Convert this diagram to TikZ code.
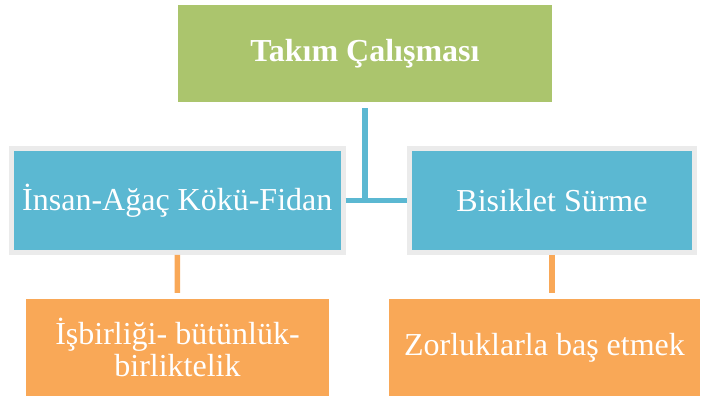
\documentclass[tikz,border=0pt]{standalone}
\usepackage{fontspec}
\setmainfont{Liberation Serif}
\definecolor{boxgreen}{HTML}{ABC56D}
\definecolor{boxblue}{HTML}{5BB8D2}
\definecolor{boxorange}{HTML}{F9A857}
\definecolor{rimgrey}{HTML}{EBEBEB}
\tikzset{
  base/.style={rectangle, inner sep=0pt, text=white, align=center, font=\fontsize{32}{32}\selectfont},
  greenbox/.style={base, fill=boxgreen, font=\fontsize{32}{32}\selectfont\bfseries},
  bluebox/.style={base, fill=boxblue, draw=rimgrey, line width=5pt},
  orangebox/.style={base, fill=boxorange},
  blueline/.style={draw=boxblue, line width=5.5pt},
  orangeline/.style={draw=boxorange, line width=5.5pt},
}
\begin{document}
\begin{tikzpicture}[x=1pt,y=-1pt]
\useasboundingbox (0,0) rectangle (703,398);
\node[greenbox, minimum width=374pt, minimum height=97pt] (top) at (365,53.5) {Takım Çalışması};
\node[bluebox, minimum width=331.5pt, minimum height=103.5pt] (ins) at (177.3,200.7) {İnsan-Ağaç Kökü-Fidan};
\node[bluebox, minimum width=285pt, minimum height=103.5pt] (bis) at (552,200.7) {Bisiklet Sürme};
\node[orangebox, minimum width=303pt, minimum height=97pt] (isb) at (177.5,347.5) {İşbirliği- bütünlük-\\birliktelik};
\node[orangebox, minimum width=311pt, minimum height=97pt] (zor) at (544.5,347.5) {Zorluklarla baş etmek};
\draw[blueline] (ins.east) -- (bis.west);
\draw[blueline, shorten <=6pt] (top.south) -- (top.south |- ins.east);
\draw[orangeline, shorten >=6pt] (ins.south) -- (isb.north);
\draw[orangeline, shorten >=6pt] (bis.south) -- (bis.south |- zor.north);
\end{tikzpicture}
\end{document}
